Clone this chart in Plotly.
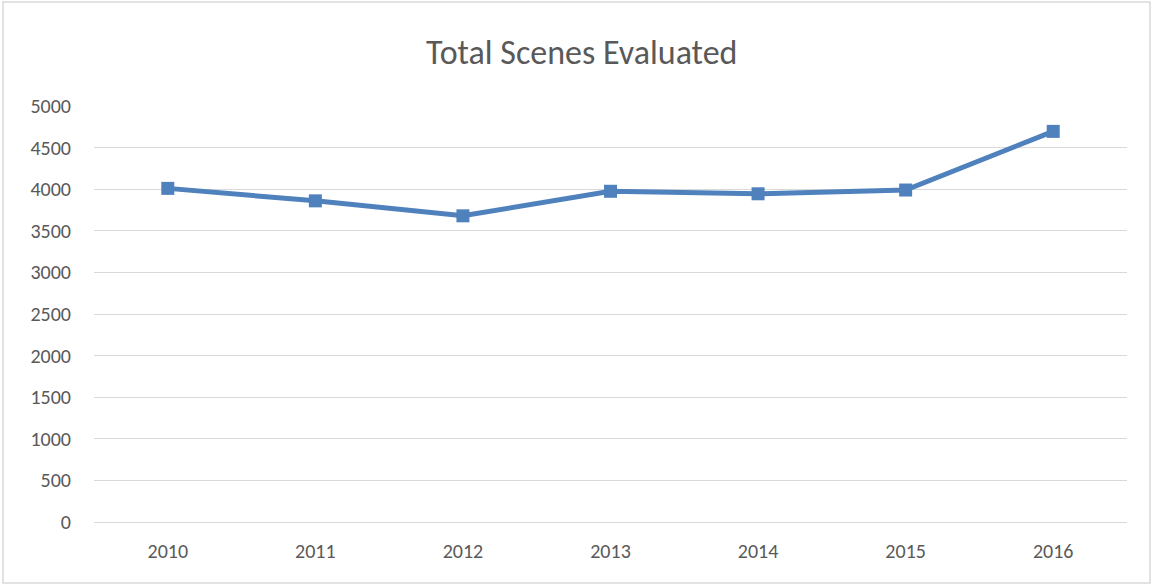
import plotly.graph_objects as go

years = ["2010", "2011", "2012", "2013", "2014", "2015", "2016"]
scenes = [4010, 3860, 3680, 3975, 3945, 3990, 4695]
y_ticks = [0, 500, 1000, 1500, 2000, 2500, 3000, 3500, 4000, 4500, 5000]

fig = go.Figure()
fig.add_trace(go.Scatter(
    x=years, y=scenes, mode="lines+markers",
    line=dict(color="#4F81BD", width=5),
    marker=dict(symbol="square", size=13, color="#4F81BD"),
    showlegend=False,
))

font_family = "Carlito, Calibri, Lato, 'Open Sans', sans-serif"
fig.update_layout(
    width=1152, height=585,
    margin=dict(l=94, r=25, t=106, b=63),
    paper_bgcolor="white", plot_bgcolor="white",
    font=dict(family=font_family, color="#595959", size=20),
    title=dict(text="Total Scenes Evaluated", x=0.505, xanchor="center",
               y=1 - 52 / 585, yanchor="middle",
               font=dict(size=34, color="#595959", family=font_family)),
    xaxis=dict(type="category", range=[-0.5, 6.5], showgrid=False,
               showline=False, zeroline=False, ticks="",
               ticklabelstandoff=15, tickfont=dict(size=20, color="#595959")),
    yaxis=dict(range=[0, 5000], tickvals=y_ticks, showgrid=True,
               gridcolor="#D9D9D9", gridwidth=1, zeroline=True,
               zerolinecolor="#D9D9D9", zerolinewidth=1, showline=False,
               ticks="", ticklabelstandoff=22,
               tickfont=dict(size=20, color="#595959")),
    shapes=[dict(type="rect", xref="paper", yref="paper",
                 x0=(3 - 94) / 1033, x1=(1150 - 94) / 1033,
                 y0=(522 - 583) / 416, y1=(522 - 2) / 416,
                 line=dict(color="#D9D9D9", width=1.5), layer="below")],
)

fig.write_html("out.html", config={"displayModeBar": False},
               post_script="document.body.style.margin='0';document.body.style.overflow='hidden';")
